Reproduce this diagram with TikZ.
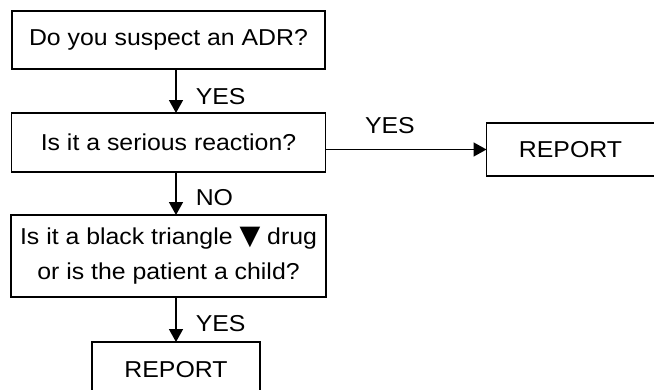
\documentclass[tikz,border=0pt]{standalone}
\usepackage{fontspec}
\setmainfont[FakeStretch=1.08]{Liberation Sans}
\newfontfamily\symfont{DejaVu Sans}
\usepackage{tikz}
\usetikzlibrary{arrows.meta,positioning}

\begin{document}
\begin{tikzpicture}[x=1pt, y=-1pt, node distance=44pt, every node/.style={font=\fontsize{23}{35}\selectfont},
		question/.style={draw, line width=1.5pt, inner sep=2pt, outer sep=0pt, align=center},
		answer/.style={inner sep=0pt},
		flow/.style={-{Triangle[length=13pt,width=14pt]}, line width=1.5pt}]
			\useasboundingbox (0,0) rectangle (654,389);
			\clip (0,0) rectangle (654,389);
			\node[question, minimum width=313pt, minimum height=58pt] (adr) at (168.5,40) {Do you suspect an ADR?};
			\node[question, minimum width=314pt, minimum height=59pt, below=of adr] (serious) {Is it a serious reaction?};
			\node[question, minimum width=315pt, minimum height=82pt, below=43pt of serious] (triangle) {Is it a black triangle {\symfont\fontsize{27}{35}\selectfont ▼} drug\\or is the patient a child?};
			\node[question, minimum width=168pt, minimum height=56pt, below=45pt of triangle, xshift=7.5pt] (report2) {REPORT};
			\node[question, minimum width=168pt, minimum height=53pt, right=161pt of serious, yshift=-7pt] (report1) {REPORT};
			
			\draw[flow] (adr.south -| report2) -- (serious.north -| report2) node[answer, pos=0.62, right=19pt] {YES};
			\draw[flow] (serious.south -| report2) -- (triangle.north -| report2) node[answer, pos=0.6, right=19pt] {NO};
			\draw[flow] (triangle.south -| report2) -- (report2.north) node[answer, pos=0.58, right=19pt] {YES};
			\draw[flow] (serious.east |- report1) -- (report1.west) node[answer, pos=0.4, above=15pt] {YES};
			
		\end{tikzpicture}
\end{document}
